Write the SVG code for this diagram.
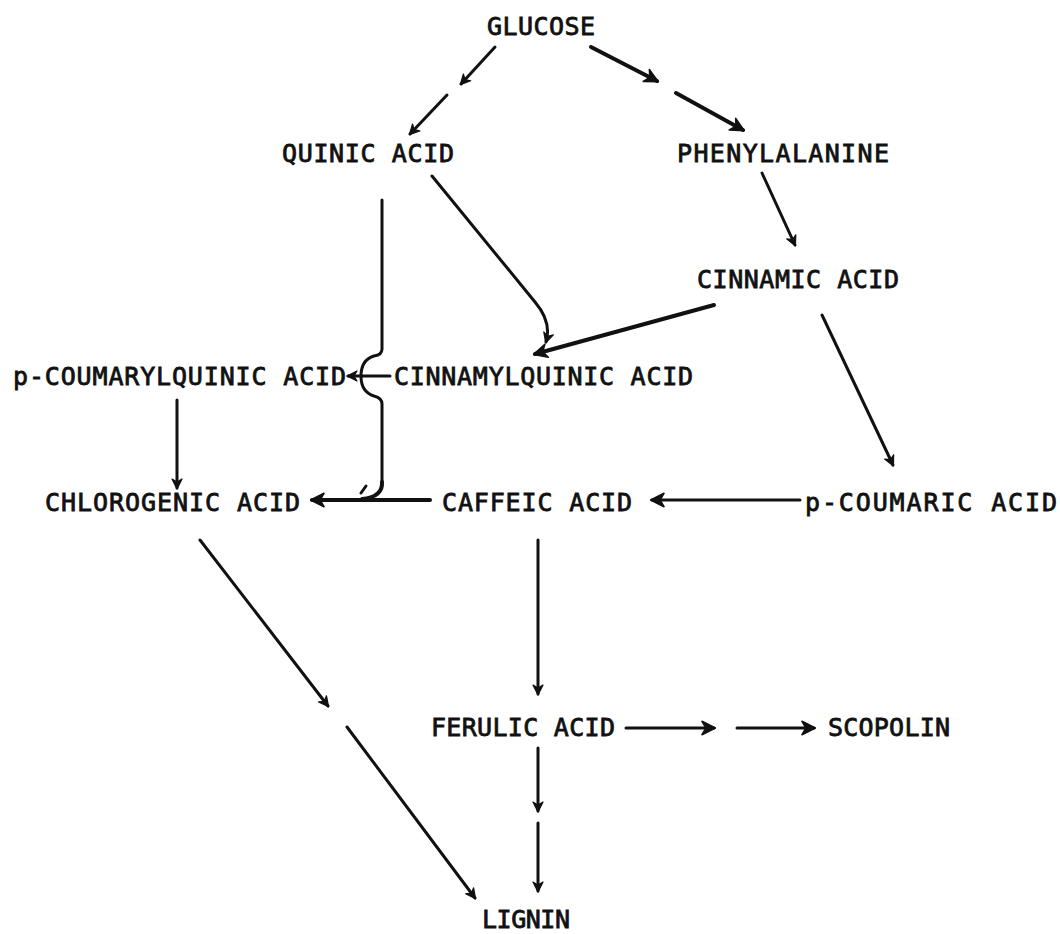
<svg xmlns="http://www.w3.org/2000/svg" width="1060" height="934" viewBox="0 0 1060 934">
<defs>
<style>
text{font-family:"DejaVu Sans Mono","Liberation Mono",monospace;font-size:25px;font-weight:normal;fill:#111;stroke:#111;stroke-width:0.8;}
.c{fill:none;stroke:#111;stroke-width:3;stroke-linecap:round;stroke-linejoin:round;}
.t{stroke-width:4;}
</style>
<marker id="ah" viewBox="0 0 12 12" refX="10" refY="6" markerWidth="12" markerHeight="12" markerUnits="userSpaceOnUse" orient="auto">
<path d="M1,1 L11,6 L1,11 L4,6 Z" fill="#111" stroke="#111" stroke-width="1.2" stroke-linejoin="round"/>
</marker>
<marker id="ahb" viewBox="0 0 12 12" refX="10" refY="6" markerWidth="16" markerHeight="16" markerUnits="userSpaceOnUse" orient="auto">
<path d="M1,1 L11,6 L1,11 L4,6 Z" fill="#111" stroke="#111" stroke-width="1.2" stroke-linejoin="round"/>
</marker>
</defs>
<rect width="1060" height="934" fill="#fff"/>
<g id="glucose"><text x="487" y="35" textLength="108" lengthAdjust="spacing">GLUCOSE</text></g>
<g id="quinic-acid"><text x="282" y="162" textLength="172" lengthAdjust="spacing">QUINIC ACID</text></g>
<g id="phenylalanine"><text x="677" y="162" textLength="212" lengthAdjust="spacing">PHENYLALANINE</text></g>
<g id="cinnamic-acid"><text x="697" y="288" textLength="202" lengthAdjust="spacing">CINNAMIC ACID</text></g>
<g id="p-coumarylquinic-acid"><text x="13" y="385" textLength="333" lengthAdjust="spacing">p-COUMARYLQUINIC ACID</text></g>
<g id="cinnamylquinic-acid"><text x="394" y="385" textLength="299" lengthAdjust="spacing">CINNAMYLQUINIC ACID</text></g>
<g id="chlorogenic-acid"><text x="45" y="511" textLength="255" lengthAdjust="spacing">CHLOROGENIC ACID</text></g>
<g id="caffeic-acid"><text x="442" y="511" textLength="190" lengthAdjust="spacing">CAFFEIC ACID</text></g>
<g id="p-coumaric-acid"><text x="805" y="511" textLength="252" lengthAdjust="spacing">p-COUMARIC ACID</text></g>
<g id="ferulic-acid"><text x="431" y="736" textLength="184" lengthAdjust="spacing">FERULIC ACID</text></g>
<g id="scopolin"><text x="828" y="736" textLength="122" lengthAdjust="spacing">SCOPOLIN</text></g>
<g id="lignin"><text x="482" y="928" textLength="88" lengthAdjust="spacing">LIGNIN</text></g>
<g id="connectors">
<path class="c" d="M495,47 L461,84" marker-end="url(#ah)"/>
<path class="c" d="M447,95 L410,134" marker-end="url(#ah)"/>
<path class="c t" d="M591,47 L657,81" marker-end="url(#ahb)"/>
<path class="c t" d="M676,93 L743,130" marker-end="url(#ahb)"/>
<path class="c" d="M762,173 L795,245" marker-end="url(#ah)"/>
<path class="c" d="M432,176 L535,302 Q552,322 546,342" marker-end="url(#ah)"/>
<path class="c t" d="M714,305 L535,354" marker-end="url(#ahb)"/>
<path class="c" d="M822,315 L893,465" marker-end="url(#ah)"/>
<path class="c" d="M382,200 L382,349 Q382,355 374,356 Q361,360 361,376 Q361,392 374,396 Q382,398 382,404 L382,482"/>
<path class="c t" d="M382,482 Q383,497 362,499"/>
<path class="c" d="M366,486 L361,493"/>
<path class="c" d="M390,376 L348,376" marker-end="url(#ah)"/>
<path class="c" d="M800,500 L652,500" marker-end="url(#ahb)"/>
<path class="c t" d="M430,500 L312,500" marker-end="url(#ahb)"/>
<path class="c" d="M177,400 L177,488" marker-end="url(#ah)"/>
<path class="c" d="M200,540 L328,706" marker-end="url(#ah)"/>
<path class="c" d="M347,727 L475,898" marker-end="url(#ah)"/>
<path class="c" d="M538,540 L538,694" marker-end="url(#ah)"/>
<path class="c" d="M626,728 L714,728" marker-end="url(#ahb)"/>
<path class="c" d="M737,728 L814,728" marker-end="url(#ahb)"/>
<path class="c" d="M538,748 L538,811" marker-end="url(#ah)"/>
<path class="c" d="M538,823 L538,891" marker-end="url(#ah)"/>
</g>
</svg>
